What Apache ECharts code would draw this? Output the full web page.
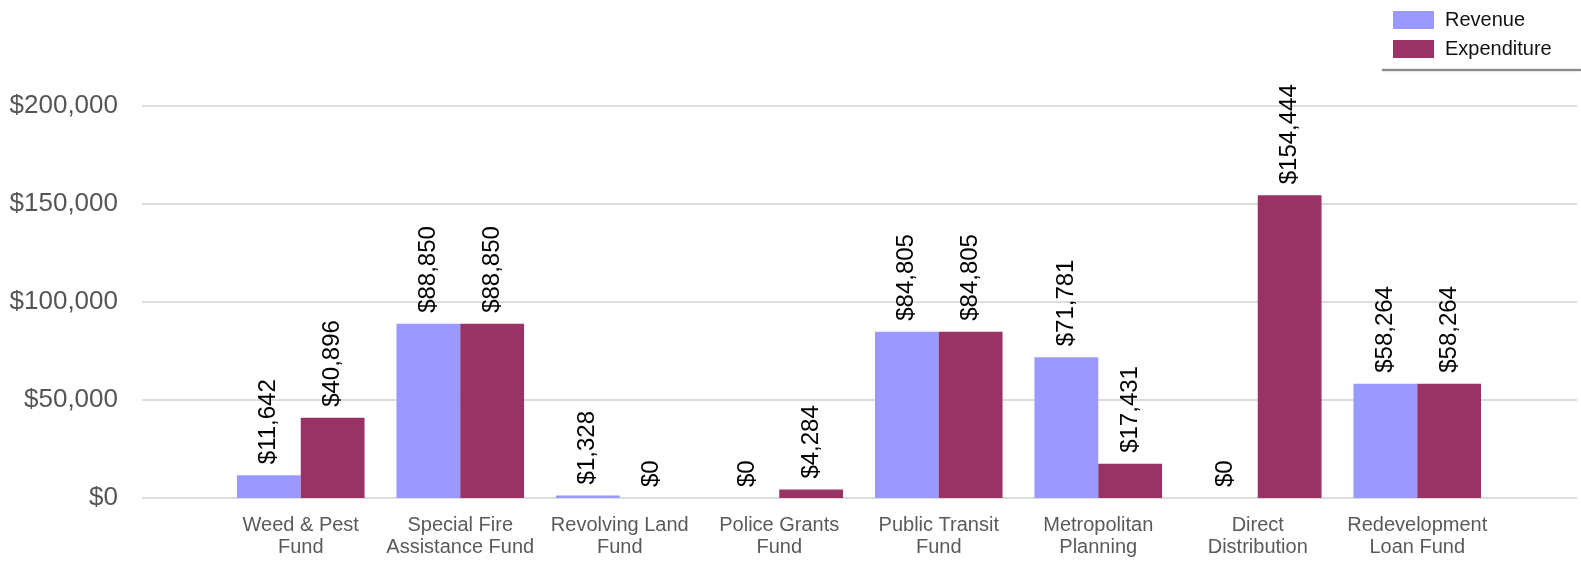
<!DOCTYPE html>
<html>
<head>
<meta charset="utf-8">
<script src="https://cdn.jsdelivr.net/npm/echarts@6/dist/echarts.min.js"></script>
<style>html,body{margin:0;padding:0;background:#fff;}#c{width:1581px;height:561px;}</style>
</head>
<body>
<div id="c"></div>
<script>
var categories = ['Weed & Pest\nFund', 'Special Fire\nAssistance Fund', 'Revolving Land\nFund', 'Police Grants\nFund', 'Public Transit\nFund', 'Metropolitan\nPlanning', 'Direct\nDistribution', 'Redevelopment\nLoan Fund'];
var revenue = [11642, 88850, 1328, 0, 84805, 71781, 0, 58264];
var expenditure = [40896, 88850, 0, 4284, 84805, 17431, 154444, 58264];
var yTicks = [0, 50000, 100000, 150000, 200000];

function money(v) { return '$' + Number(v).toLocaleString('en-US'); }
var FONT = '"Liberation Sans", Arial, sans-serif';

var chart = echarts.init(document.getElementById('c'), null, {renderer: 'canvas'});
var labelCfg = {
  show: true, position: 'top', rotate: 90, align: 'left', verticalAlign: 'middle',
  distance: 11, fontSize: 24, color: '#000', fontFamily: FONT,
  formatter: function (p) { return money(p.value); }
};
chart.setOption({
  animation: false,
  backgroundColor: '#fff',
  textStyle: {fontFamily: FONT},
  grid: [
    {left: 142, right: 4, top: 106, bottom: 63},
    {left: 221, right: 84, top: 106, bottom: 63}
  ],
  xAxis: [
    {gridIndex: 0, type: 'value', min: 0, max: 1, show: false},
    {gridIndex: 1, type: 'category', data: categories,
     axisLine: {show: false}, axisTick: {show: false},
     axisLabel: {fontSize: 20, lineHeight: 22, color: '#5a5a5a', margin: 16, fontFamily: FONT, interval: 0}}
  ],
  yAxis: [
    {gridIndex: 0, type: 'value', min: yTicks[0], max: yTicks[yTicks.length - 1], interval: yTicks[1] - yTicks[0],
     axisLine: {show: false}, axisTick: {show: false},
     axisLabel: {fontSize: 26, color: '#555555', margin: 24, fontFamily: FONT, formatter: money},
     splitLine: {lineStyle: {color: '#dcdcdc', width: 2}}},
    {gridIndex: 1, type: 'value', min: yTicks[0], max: yTicks[yTicks.length - 1], show: false,
     splitLine: {show: false}}
  ],
  legend: {
    orient: 'vertical', left: 1393, top: 10, padding: 0, itemWidth: 41, itemHeight: 18, itemGap: 9,
    icon: 'rect',
    textStyle: {fontSize: 20, color: '#111', fontFamily: FONT, padding: [0, 0, 0, 6]},
    data: ['Revenue', 'Expenditure']
  },
  graphic: [
    {type: 'line', shape: {x1: 1382, y1: 70, x2: 1581, y2: 70},
     style: {stroke: '#8a8a8a', lineWidth: 2, shadowColor: 'rgba(0,0,0,0.3)', shadowBlur: 2}}
  ],
  series: [
    {name: 'Revenue', type: 'bar', xAxisIndex: 1, yAxisIndex: 1, data: revenue,
     barGap: '0%', barCategoryGap: '20%',
     itemStyle: {color: '#9999ff'},
     label: labelCfg},
    {name: 'Expenditure', type: 'bar', xAxisIndex: 1, yAxisIndex: 1, data: expenditure,
     barGap: '0%', barCategoryGap: '20%',
     itemStyle: {color: '#993366'},
     label: labelCfg}
  ]
});
</script>
</body>
</html>
